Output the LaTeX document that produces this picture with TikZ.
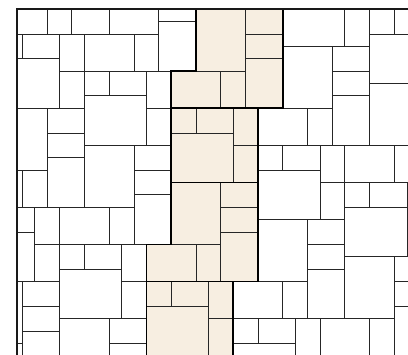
\documentclass[tikz,border=0pt]{standalone}
\usepackage{tikz}
\usetikzlibrary{positioning}
\definecolor{bandbeige}{RGB}{247,238,225}

\begin{document}
\begin{tikzpicture}[x=0.4cm,y=-0.3988cm,
  tile/.style={draw=black!85,line width=0.9pt},
  unitline/.style={draw=black,line width=1.6pt,line join=miter},
  rim/.style={draw=black!90,line width=1.7pt}]
\useasboundingbox (-1.797,-0.754) rectangle (31.08,27.86);
\begin{scope}
\clip (-0.45,0) rectangle (31.3,28.2);
% highlighted band
\foreach \n in {0,1}
  \fill[bandbeige,shift={({-2*\n},{14*\n})}] (12,8) rectangle (19,14);
\foreach \n in {-1,0}
  \fill[bandbeige,shift={({-2*\n},{14*\n})}]
    (12,14) -- (19,14) -- (19,22) -- (10,22) -- (10,19) -- (12,19) -- cycle;
% stones, repeated by (7,3) and (-2,14)
\foreach \m in {-4,...,4} {
  \foreach \n in {-2,...,2} {
    \foreach \xa/\ya/\xb/\yb in {12/8/14/10,14/8/17/10,17/8/19/11,12/10/17/14,
        17/11/19/14,12/14/16/19,16/14/19/16,16/16/19/18,16/18/19/22,
        10/19/14/22,14/19/16/22}
      \draw[tile,shift={({7*\m-2*\n},{3*\m+14*\n})}] (\xa,\ya) rectangle (\xb,\yb);
  }
}
% unit outlines
\foreach \n in {0,1}
  \draw[unitline,shift={({-2*\n},{14*\n})}] (12,8) rectangle (19,14);
\foreach \n in {-1,0}
  \draw[unitline,shift={({-2*\n},{14*\n})}]
    (12,14) -- (19,14) -- (19,22) -- (10,22) -- (10,19) -- (12,19) -- cycle;
\end{scope}
\draw[rim] (-0.45,28.2) -- (-0.45,0) -- (31.3,0);
\end{tikzpicture}
\end{document}
